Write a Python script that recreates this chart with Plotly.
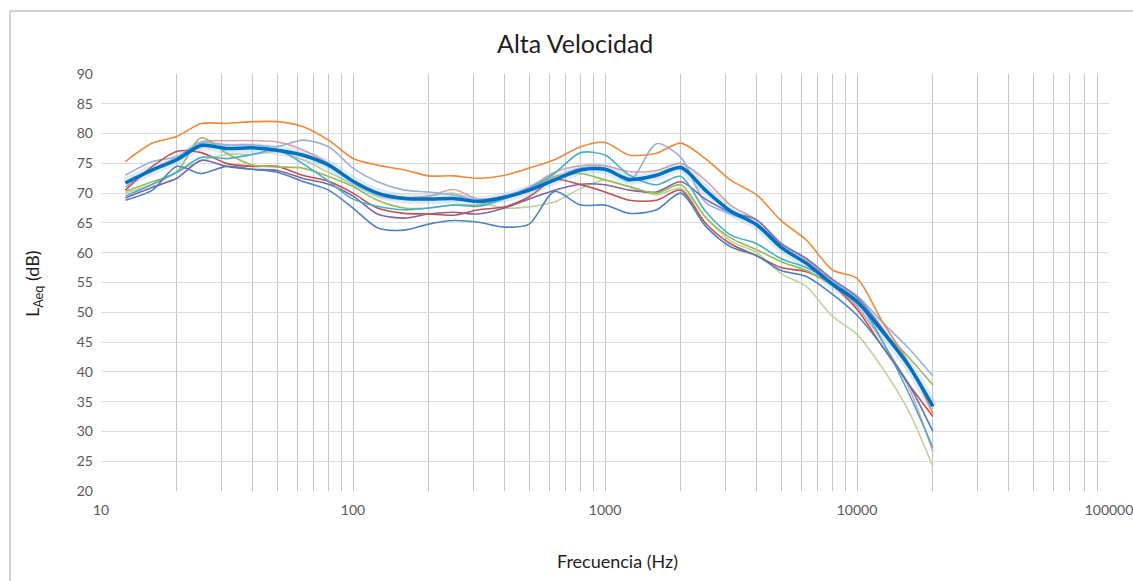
import plotly.graph_objects as go

freqs = [12.5, 16, 20, 25, 31.5, 40, 50, 63, 80, 100, 125, 160, 200, 250, 315, 400, 500,
         630, 800, 1000, 1250, 1600, 2000, 2500, 3150, 4000, 5000, 6300, 8000, 10000,
         12500, 16000, 20000]

s_orange = [75.3, 78.4, 79.5, 81.7, 81.7, 82.0, 82.0, 81.2, 78.9, 75.8, 74.7, 73.9, 72.9, 72.9, 72.5, 73.0, 74.2,
            75.6, 77.8, 78.5, 76.4, 76.7, 78.4, 75.8, 72.2, 69.7, 65.4, 62.1, 57.1, 55.7, 48.7, 41.5, 33.0]
s_lightblue = [73.0, 75.3, 76.1, 78.4, 78.1, 78.1, 77.8, 78.9, 77.8, 74.2, 71.9, 70.5, 70.2, 69.7, 68.8, 69.5, 70.8,
               72.5, 74.2, 74.2, 72.0, 78.3, 76.0, 68.5, 66.5, 64.8, 61.5, 59.0, 55.5, 52.8, 48.5, 44.0, 39.3]
s_pink = [71.0, 74.0, 76.0, 78.6, 78.8, 78.8, 78.6, 77.3, 75.0, 72.0, 70.0, 69.3, 69.5, 70.6, 69.0, 69.5, 71.0,
          73.5, 74.6, 74.6, 73.6, 73.8, 75.0, 72.2, 68.0, 65.5, 61.6, 58.8, 55.0, 51.0, 45.3, 37.5, 26.6]
s_red = [70.5, 74.5, 77.0, 76.8, 75.0, 74.5, 74.5, 73.0, 72.0, 70.0, 67.5, 66.6, 66.5, 66.3, 67.2, 67.7, 69.4,
         72.3, 71.4, 70.2, 68.8, 68.8, 70.5, 65.0, 61.5, 59.5, 57.5, 56.8, 54.5, 50.5, 44.5, 38.0, 32.5]
s_green = [70.3, 71.9, 73.6, 79.3, 76.7, 74.7, 74.4, 74.2, 72.8, 71.1, 68.8, 67.5, 67.5, 68.0, 68.0, 69.1, 70.5,
           72.8, 73.3, 72.2, 71.1, 70.0, 71.4, 66.0, 62.5, 60.5, 58.5, 57.0, 54.5, 51.5, 47.0, 42.5, 37.8]
s_lightgreen = [70.0, 71.5, 73.5, 75.5, 76.5, 76.5, 77.0, 75.6, 73.5, 71.5, 69.5, 69.0, 69.5, 70.0, 68.5, 67.5, 67.7,
                68.5, 70.8, 72.2, 71.0, 69.7, 70.8, 66.0, 62.0, 60.0, 56.5, 54.3, 49.3, 46.3, 40.9, 33.5, 24.1]
s_purple = [69.2, 71.0, 72.5, 75.5, 74.5, 74.0, 73.8, 72.5, 71.5, 69.5, 66.5, 65.8, 66.5, 66.8, 66.5, 67.5, 69.0,
            70.5, 71.5, 71.4, 70.5, 70.2, 71.9, 69.0, 66.8, 65.5, 61.5, 59.0, 55.5, 52.5, 47.5, 41.0, 34.5]
s_teal = [69.5, 71.5, 73.5, 76.0, 75.8, 76.5, 77.3, 75.0, 72.0, 69.0, 67.8, 67.2, 67.5, 68.0, 67.8, 69.1, 70.8,
          73.3, 76.8, 76.4, 73.0, 71.4, 72.8, 67.0, 63.0, 61.5, 59.0, 57.5, 55.0, 52.0, 45.5, 36.5, 27.3]
s_darkblue = [68.8, 70.5, 74.5, 73.3, 74.5, 74.0, 73.5, 72.0, 70.5, 67.5, 64.2, 63.8, 64.8, 65.4, 65.1, 64.3, 64.8,
              70.3, 68.0, 68.0, 66.6, 67.2, 70.0, 64.5, 61.0, 59.5, 57.0, 56.0, 53.0, 49.5, 44.5, 38.0, 30.0]
s_avg = [71.7, 73.9, 75.6, 78.0, 77.5, 77.6, 77.2, 76.4, 74.7, 72.0, 70.0, 69.1, 69.0, 69.1, 68.6, 69.3, 70.5,
         72.2, 73.9, 74.0, 72.3, 73.0, 74.3, 70.5, 67.0, 64.7, 60.9, 58.2, 54.7, 51.8, 47.0, 41.1, 34.2]

thin_series = [
    (s_lightgreen, "#BCD49C"),
    (s_pink, "#DDA3A2"),
    (s_lightblue, "#9AB0D9"),
    (s_purple, "#8064A2"),
    (s_red, "#C0504D"),
    (s_green, "#9BBB59"),
    (s_teal, "#4BACC6"),
    (s_darkblue, "#4F81BD"),
    (s_orange, "#EE8A3D"),
]

FONT = "Lato, 'Open Sans', sans-serif"

fig = go.Figure()
for vals, col in thin_series:
    fig.add_trace(go.Scatter(x=freqs, y=vals, mode="lines",
                             line=dict(color=col, width=1.6, shape="spline", smoothing=0.8),
                             showlegend=False, hoverinfo="skip"))
# glow of average
fig.add_trace(go.Scatter(x=freqs, y=s_avg, mode="lines",
                         line=dict(color="rgba(120,170,230,0.25)", width=10, shape="spline", smoothing=0.8),
                         showlegend=False, hoverinfo="skip"))
fig.add_trace(go.Scatter(x=freqs, y=s_avg, mode="lines",
                         line=dict(color="#0070C0", width=3.5, shape="spline", smoothing=0.8),
                         showlegend=False))

L, R, T, B = 101, 1109, 74, 491

fig.update_layout(
    width=1133, height=581,
    margin=dict(l=L, r=1133 - R, t=T, b=581 - B, autoexpand=False),
    paper_bgcolor="white", plot_bgcolor="white",
    font=dict(family=FONT, color="#595959", size=14),
    xaxis=dict(type="log", range=[1, 5], automargin=False,
               tickvals=[10, 100, 1000, 10000, 100000],
               ticktext=["10", "100", "1000", "10000", "100000"],
               ticklabeloverflow="allow",
               showgrid=True, gridcolor="#C4C4C4", gridwidth=1,
               minor=dict(showgrid=True, dtick="D1", gridcolor="#C4C4C4", gridwidth=1, ticks=""),
               zeroline=False, showline=False, ticks="", ticklabelstandoff=9,
               tickfont=dict(size=14, color="#595959")),
    yaxis=dict(range=[20, 90], dtick=5, tick0=20, automargin=False,
               showgrid=True, gridcolor="#DCDCDC", gridwidth=1,
               zeroline=False, showline=False, ticks="", ticklabelstandoff=7,
               tickfont=dict(size=14, color="#595959")),
    annotations=[
        dict(text="Alta Velocidad", xref="paper", yref="paper",
             x=(575 - L) / (R - L), y=(B - 43) / (B - T), xanchor="center", yanchor="middle",
             showarrow=False, font=dict(size=25, color="#1F1F1F", family=FONT)),
        dict(text="Frecuencia (Hz)", xref="paper", yref="paper",
             x=(617 - L) / (R - L), y=(B - 561) / (B - T), xanchor="center", yanchor="middle",
             showarrow=False, font=dict(size=18, color="#1F1F1F", family=FONT)),
        dict(text="L<sub>Aeq</sub> (dB)", xref="paper", yref="paper",
             x=(33 - L) / (R - L), y=(B - 284) / (B - T), xanchor="center", yanchor="middle",
             textangle=-90, showarrow=False, font=dict(size=18, color="#1F1F1F", family=FONT)),
    ],
    shapes=[
        dict(type="rect", xref="paper", yref="paper",
             x0=(10 - L) / (R - L), x1=(1150 - L) / (R - L),
             y0=(B - 600) / (B - T), y1=(B - 11) / (B - T),
             line=dict(color="#A6A6A6", width=1), fillcolor="rgba(0,0,0,0)", layer="below"),
    ],
)

fig.write_html("out.html")
